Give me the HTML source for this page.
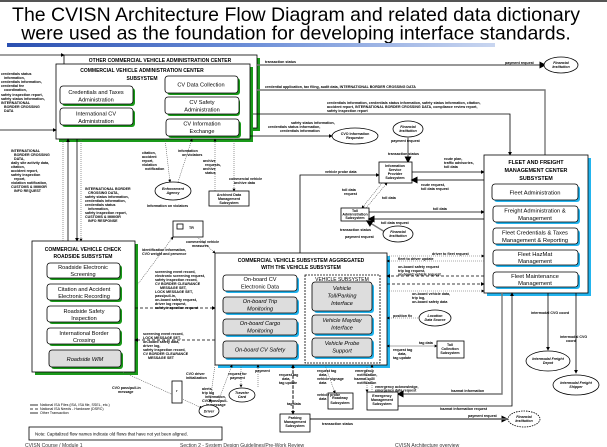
<!DOCTYPE html>
<html><head><meta charset="utf-8"><style>
html,body{margin:0;padding:0;background:#fff;}
svg{display:block;}
text{font-family:"Liberation Sans",sans-serif;}
.t{font-size:3.6px;font-weight:bold;fill:#000;}
.b{font-size:6.6px;fill:#000;}
.bi{font-size:6.6px;fill:#000;font-style:italic;}
.h{font-size:5.6px;font-weight:bold;fill:#000;}
.l{stroke:#000;stroke-width:0.8;fill:none;}
.d{stroke:#000;stroke-width:0.8;fill:none;stroke-dasharray:3,2;}
.dt{stroke:#555;stroke-width:0.6;fill:none;stroke-dasharray:1,1;}
.g{stroke:#777;stroke-width:1.4;fill:none;}
.w{fill:#fff;stroke:#000;stroke-width:0.8;}
.gr{fill:#ddd;stroke:#000;stroke-width:0.8;}
</style></head><body>
<svg width="607" height="447" viewBox="0 0 607 447" xmlns="http://www.w3.org/2000/svg">
<defs>
<marker id="a" markerWidth="5" markerHeight="5" refX="4" refY="2.5" orient="auto"><path d="M0,0 L5,2.5 L0,5z" fill="#000"/></marker>
<linearGradient id="bar" x1="0" x2="1"><stop offset="0" stop-color="#2a4fb0"/><stop offset="0.5" stop-color="#6d8fd8"/><stop offset="1" stop-color="#c9d6f0"/></linearGradient>
</defs>
<rect x="0" y="0" width="607" height="2" fill="#555"/>
<text x="296" y="21" text-anchor="middle" style="font-size:19.5px">The CVISN Architecture Flow Diagram and related data dictionary</text>
<text x="296" y="39.5" text-anchor="middle" style="font-size:19.5px">were used as the foundation for developing interface standards.</text>
<rect x="7" y="43" width="488" height="4" fill="url(#bar)"/>

<!-- Other CVAC -->
<rect x="67" y="58" width="193" height="73" fill="#1a9a1a"/>
<rect x="64" y="55" width="193" height="73" class="w"/>
<text x="160" y="62" text-anchor="middle" class="h" style="font-size:5px">OTHER COMMERCIAL VEHICLE ADMINISTRATION CENTER</text>
<!-- CVAC -->
<rect x="59" y="67" width="194" height="75" fill="#1a9a1a"/>
<rect x="56" y="64" width="194" height="75" class="w"/>
<text x="142" y="72" text-anchor="middle" class="h" style="font-size:5px">COMMERCIAL VEHICLE ADMINISTRATION CENTER</text>
<text x="142" y="80" text-anchor="middle" class="h" style="font-size:5px">SUBSYSTEM</text>
<g>
<rect x="62" y="88" width="73" height="18" rx="3" fill="#1a9a1a"/><rect x="60" y="86" width="73" height="18" rx="3" class="w"/>
<text x="96" y="94" text-anchor="middle" class="b" style="font-size:5.6px">Credentials and Taxes</text><text x="96" y="101.5" text-anchor="middle" class="b" style="font-size:5.6px">Administration</text>
<rect x="62" y="110" width="73" height="17" rx="3" fill="#1a9a1a"/><rect x="60" y="108" width="73" height="17" rx="3" class="w"/>
<text x="96" y="115.5" text-anchor="middle" class="b" style="font-size:5.6px">International CV</text><text x="96" y="123" text-anchor="middle" class="b" style="font-size:5.6px">Administration</text>
<rect x="167" y="78" width="73" height="17" rx="3" fill="#1a9a1a"/><rect x="165" y="76" width="73" height="17" rx="3" class="w"/>
<text x="201" y="86.5" text-anchor="middle" class="b" style="font-size:5.6px">CV Data Collection</text>
<rect x="167" y="99" width="73" height="17" rx="3" fill="#1a9a1a"/><rect x="165" y="97" width="74" height="17" rx="3" class="w"/>
<text x="202" y="104" text-anchor="middle" class="b" style="font-size:5.6px">CV Safety</text><text x="202" y="111.5" text-anchor="middle" class="b" style="font-size:5.6px">Administration</text>
<rect x="168" y="121" width="73" height="17" rx="3" fill="#1a9a1a"/><rect x="166" y="119" width="73" height="17" rx="3" class="w"/>
<text x="202" y="125.5" text-anchor="middle" class="b" style="font-size:5.6px">CV Information</text><text x="202" y="133" text-anchor="middle" class="b" style="font-size:5.6px">Exchange</text>
</g>

<!-- left incoming lines -->
<path d="M0,55 L64,55" class="l" marker-end="url(#a)"/>
<path d="M0,130 L56,130" class="l" marker-end="url(#a)"/>
<text x="1" y="75" class="t">credentials status</text><text x="4" y="79" class="t">information,</text><text x="1" y="83" class="t">credentials information,</text><text x="1" y="87" class="t">credential fee</text><text x="4" y="91" class="t">coordination,</text><text x="1" y="96" class="t">safety inspection report,</text><text x="1" y="100" class="t">safety status information,</text><text x="1" y="104" class="t">INTERNATIONAL</text><text x="4" y="108" class="t">BORDER CROSSING</text><text x="4" y="112" class="t">DATA</text>
<text x="11" y="152" class="t">INTERNATIONAL</text><text x="14" y="156" class="t">BORDER CROSSING</text><text x="14" y="160" class="t">DATA,</text><text x="11" y="164" class="t">daily site activity data,</text><text x="11" y="168" class="t">citation,</text><text x="11" y="172" class="t">accident report,</text><text x="11" y="176" class="t">safety inspection</text><text x="14" y="180" class="t">report,</text><text x="11" y="184" class="t">violation notification,</text><text x="11" y="188" class="t">CUSTOMS &amp; IMMIGR</text><text x="14" y="192" class="t">INFO REQUEST</text>

<!-- CVAC to roadside verticals -->
<path d="M63,241 L63,139" class="dt"/>
<path d="M68,241 L68,139" class="l" marker-end="url(#a)"/>
<path d="M77,139 L77,241" class="l" marker-end="url(#a)"/>
<path d="M81,139 L81,241" class="dt" marker-end="url(#a)"/>
<text x="85" y="190" class="t">INTERNATIONAL BORDER</text><text x="88" y="194" class="t">CROSSING DATA,</text><text x="85" y="198" class="t">safety status information,</text><text x="85" y="202" class="t">credentials information,</text><text x="85" y="206" class="t">credentials status</text><text x="88" y="210" class="t">information,</text><text x="85" y="214" class="t">safety inspection report,</text><text x="85" y="218" class="t">CUSTOMS &amp; IMMIGR</text><text x="88" y="222" class="t">INFO RESPONSE</text>

<!-- right top lines -->
<path d="M257,65 L545,65" class="g" marker-end="url(#a)"/>
<text x="265" y="63" class="t">transaction status</text><text x="505" y="64" class="t">payment request</text>
<ellipse cx="561" cy="65" rx="17" ry="8" class="w"/><text x="561" y="64" text-anchor="middle" class="t" style="font-style:italic">Financial</text><text x="561" y="68" text-anchor="middle" class="t" style="font-style:italic">Institution</text>
<path d="M257,90 L545,90 L545,155" class="g"/>
<text x="265" y="88" class="t">credential application, tax filing, audit data, INTERNATIONAL BORDER CROSSING DATA</text>
<path d="M253,114 L510,114 L510,155" class="l" marker-end="url(#a)"/>
<text x="327" y="104" class="t">credentials information, credentials status information, safety status information, citation,</text><text x="327" y="108" class="t">accident report, INTERNATIONAL BORDER CROSSING DATA, compliance review report,</text><text x="327" y="112" class="t">safety inspection report</text>
<path d="M250,136 L332,136" class="l" marker-end="url(#a)"/>
<text x="291" y="124" class="t">safety status information,</text><text x="268" y="128" class="t">credentials status information,</text><text x="280" y="132" class="t">credentials information</text>
<ellipse cx="355" cy="136" rx="23" ry="8" class="w"/><text x="355" y="135" text-anchor="middle" class="t">CVO Information</text><text x="355" y="139" text-anchor="middle" class="t">Requester</text>

<!-- enforcement etc -->
<path d="M165,139 L170,182" class="dt" marker-end="url(#a)"/>
<path d="M178,182 L192,139" class="dt" marker-end="url(#a)"/>
<path d="M215,191 L215,139" class="dt" marker-end="url(#a)"/>
<path d="M234,139 L234,191" class="dt" marker-end="url(#a)"/>
<text x="142" y="154" class="t">citation,</text><text x="142" y="158" class="t">accident</text><text x="142" y="162" class="t">report,</text><text x="142" y="166" class="t">violation</text><text x="145" y="170" class="t">notification</text>
<text x="178" y="152" class="t">information</text><text x="182" y="156" class="t">on violators</text>
<text x="203" y="162" class="t">archive</text><text x="205" y="166" class="t">requests,</text><text x="203" y="170" class="t">archive</text><text x="205" y="174" class="t">status</text>
<text x="229" y="180" class="t">commercial vehicle</text><text x="234" y="184" class="t">archive data</text>
<ellipse cx="173" cy="191" rx="18" ry="9" class="w"/><text x="173" y="190" text-anchor="middle" class="t" style="font-style:italic">Enforcement</text><text x="173" y="194" text-anchor="middle" class="t" style="font-style:italic">Agency</text>
<text x="147" y="207" class="t">Information on violators</text>
<rect x="209" y="191" width="40" height="15" class="w" stroke-width="1.2"/><text x="229" y="196" text-anchor="middle" class="t">Archived Data</text><text x="229" y="200" text-anchor="middle" class="t">Management</text><text x="229" y="204" text-anchor="middle" class="t">Subsystem</text>
<rect x="173" y="221" width="30" height="16" class="w"/><rect x="177" y="224" width="6" height="5" class="w" stroke-width="0.4"/><text x="189" y="229" class="t">TR</text>
<path d="M135,288 L173,237" class="dt" marker-end="url(#a)"/>
<path d="M197,237 L215,253" class="dt" marker-end="url(#a)"/>
<text x="186" y="243" class="t">commercial vehicle</text><text x="192" y="247" class="t">measures</text>
<text x="142" y="251" class="t">identification information,</text><text x="142" y="255" class="t">CVO weight and presence</text>

<!-- Roadside -->
<rect x="35" y="244" width="103" height="131" fill="#1a9a1a"/>
<rect x="32" y="241" width="103" height="131" class="w"/>
<text x="83" y="251" text-anchor="middle" class="h" style="font-size:5px">COMMERCIAL VEHICLE CHECK</text><text x="83" y="258" text-anchor="middle" class="h" style="font-size:5px">ROADSIDE SUBSYSTEM</text>
<g>
<rect x="49" y="265" width="73" height="15" rx="3" fill="#1a9a1a"/><rect x="47" y="263" width="73" height="15" rx="3" class="w"/>
<text x="83" y="269" text-anchor="middle" class="b" style="font-size:5.6px">Roadside Electronic</text><text x="83" y="276" text-anchor="middle" class="b" style="font-size:5.6px">Screening</text>
<rect x="49" y="286" width="73" height="16" rx="3" fill="#1a9a1a"/><rect x="47" y="284" width="73" height="16" rx="3" class="w"/>
<text x="84" y="291" text-anchor="middle" class="b" style="font-size:5.6px">Citation and Accident</text><text x="84" y="298" text-anchor="middle" class="b" style="font-size:5.6px">Electronic Recording</text>
<rect x="49" y="308" width="73" height="16" rx="3" fill="#1a9a1a"/><rect x="47" y="306" width="73" height="16" rx="3" class="w"/>
<text x="84" y="313" text-anchor="middle" class="b" style="font-size:5.6px">Roadside Safety</text><text x="84" y="320" text-anchor="middle" class="b" style="font-size:5.6px">Inspection</text>
<rect x="49" y="330" width="73" height="16" rx="3" fill="#1a9a1a"/><rect x="47" y="328" width="73" height="16" rx="3" class="w"/>
<text x="84" y="335" text-anchor="middle" class="b" style="font-size:5.6px">International Border</text><text x="84" y="342" text-anchor="middle" class="b" style="font-size:5.6px">Crossing</text>
<rect x="51" y="352" width="72" height="17" rx="3" fill="#1a9a1a"/><rect x="49" y="350" width="72" height="17" rx="3" class="gr"/>
<text x="85" y="361" text-anchor="middle" class="bi" style="font-size:5.6px">Roadside WIM</text>
</g>

<!-- Roadside <-> CV lines -->
<path d="M135,308 L215,308" class="d" marker-end="url(#a)"/>
<path d="M215,340 L135,340" class="d" marker-end="url(#a)"/>
<text x="155" y="273" class="t">screening event record,</text><text x="155" y="277" class="t">electronic screening request,</text><text x="155" y="281" class="t">safety inspection record,</text><text x="155" y="285" class="t">CV BORDER CLEARANCE</text><text x="160" y="289" class="t">MESSAGE SET,</text><text x="155" y="293" class="t">LOCK MESSAGE SET,</text><text x="155" y="297" class="t">pass/pull-in,</text><text x="155" y="301" class="t">on-board safety request,</text><text x="155" y="305" class="t">driver log request,</text><text x="155" y="309" class="t">safety inspection request</text>
<text x="143" y="335" class="t">screening event record,</text><text x="143" y="339" class="t">LOCK MESSAGE SET,</text><text x="143" y="343" class="t">on-board safety data,</text><text x="143" y="347" class="t">driver log,</text><text x="143" y="351" class="t">safety inspection record,</text><text x="143" y="355" class="t">CV BORDER CLEARANCE</text><text x="148" y="359" class="t">MESSAGE SET</text>

<!-- CV aggregated -->
<rect x="218" y="256" width="172" height="112" fill="#22b4ee"/>
<rect x="215" y="253" width="172" height="112" class="w" stroke-width="1.2"/>
<text x="301" y="262" text-anchor="middle" class="h" style="font-size:5px">COMMERCIAL VEHICLE SUBSYSTEM AGGREGATED</text><text x="301" y="269" text-anchor="middle" class="h" style="font-size:5px">WITH THE VEHICLE SUBSYSTEM</text>
<g>
<rect x="225" y="277" width="74" height="16" rx="3" fill="#22b4ee"/><rect x="223" y="275" width="74" height="16" rx="3" class="w"/>
<text x="260" y="281" text-anchor="middle" class="b" style="font-size:5.6px">On-board CV</text><text x="260" y="288.5" text-anchor="middle" class="b" style="font-size:5.6px">Electronic Data</text>
<rect x="225" y="299" width="74" height="16" rx="3" fill="#22b4ee"/><rect x="223" y="297" width="74" height="16" rx="3" class="gr"/>
<text x="260" y="303" text-anchor="middle" class="bi" style="font-size:5.6px">On-board Trip</text><text x="260" y="310.5" text-anchor="middle" class="bi" style="font-size:5.6px">Monitoring</text>
<rect x="225" y="321" width="74" height="16" rx="3" fill="#22b4ee"/><rect x="223" y="319" width="74" height="16" rx="3" class="gr"/>
<text x="260" y="325" text-anchor="middle" class="bi" style="font-size:5.6px">On-board Cargo</text><text x="260" y="332.5" text-anchor="middle" class="bi" style="font-size:5.6px">Monitoring</text>
<rect x="225" y="343" width="74" height="17" rx="3" fill="#22b4ee"/><rect x="223" y="341" width="74" height="17" rx="3" class="gr"/>
<text x="260" y="351.5" text-anchor="middle" class="bi" style="font-size:5.6px">On-board CV Safety</text>
<rect x="305" y="275" width="75" height="88" class="w" stroke-dasharray="2,1"/>
<text x="342" y="281" text-anchor="middle" class="b" style="font-size:5px">VEHICLE SUBSYSTEM</text>
<rect x="314" y="284" width="60" height="29" rx="3" fill="#22b4ee"/><rect x="312" y="282" width="60" height="29" rx="3" class="gr"/>
<text x="342" y="290" text-anchor="middle" class="bi" style="font-size:5.6px">Vehicle</text><text x="342" y="297.5" text-anchor="middle" class="bi" style="font-size:5.6px">Toll/Parking</text><text x="342" y="305" text-anchor="middle" class="bi" style="font-size:5.6px">Interface</text>
<rect x="314" y="317" width="60" height="19" rx="3" fill="#22b4ee"/><rect x="312" y="315" width="60" height="19" rx="3" class="gr"/>
<text x="342" y="322" text-anchor="middle" class="bi" style="font-size:5.6px">Vehicle Mayday</text><text x="342" y="329.5" text-anchor="middle" class="bi" style="font-size:5.6px">Interface</text>
<rect x="314" y="340" width="60" height="19" rx="3" fill="#22b4ee"/><rect x="312" y="338" width="60" height="19" rx="3" class="gr"/>
<text x="342" y="345" text-anchor="middle" class="bi" style="font-size:5.6px">Vehicle Probe</text><text x="342" y="352.5" text-anchor="middle" class="bi" style="font-size:5.6px">Support</text>
</g>

<!-- ISP / Toll admin -->
<path d="M300,253 L300,175 L379,175" class="l" marker-end="url(#a)"/>
<text x="325" y="173" class="t">vehicle probe data</text>
<ellipse cx="408" cy="129" rx="15" ry="8" class="w"/><text x="408" y="128" text-anchor="middle" class="t" style="font-style:italic">Financial</text><text x="408" y="132" text-anchor="middle" class="t" style="font-style:italic">Institution</text>
<path d="M408,137 L408,162" class="g" marker-end="url(#a)"/>
<text x="391" y="142" class="t">payment request</text><text x="388" y="155" class="t">transaction status</text>
<rect x="379" y="162" width="33" height="21" class="w" stroke-width="1.2"/>
<text x="395" y="167" text-anchor="middle" class="t">Information</text><text x="395" y="171" text-anchor="middle" class="t">Service</text><text x="395" y="175" text-anchor="middle" class="t">Provider</text><text x="395" y="179" text-anchor="middle" class="t">Subsystem</text>
<path d="M412,172 L484,172" class="l" marker-end="url(#a)"/>
<path d="M484,180 L412,180" class="g" marker-end="url(#a)"/>
<text x="444" y="160" class="t">route plan,</text><text x="444" y="164" class="t">traffic advisories,</text><text x="444" y="168" class="t">toll data</text>
<text x="421" y="186" class="t">route request,</text><text x="421" y="190" class="t">toll data request</text>
<path d="M382,183 L362,208" class="dt" marker-end="url(#a)"/>
<path d="M366,208 L387,183" class="dt" marker-end="url(#a)"/>
<text x="342" y="191" class="t">toll data</text><text x="344" y="195" class="t">request</text><text x="382" y="199" class="t">toll data</text>
<rect x="341" y="208" width="28" height="13" class="w" stroke-width="1.2"/>
<text x="355" y="212" text-anchor="middle" class="t">Toll</text><text x="355" y="215.5" text-anchor="middle" class="t">Administration</text><text x="355" y="219" text-anchor="middle" class="t">Subsystem</text>
<path d="M369,212 L484,212" class="l" marker-end="url(#a)"/>
<path d="M484,219 L369,219" class="g" marker-end="url(#a)"/>
<text x="433" y="210" class="t">toll data</text><text x="381" y="224" class="t">toll data request</text>
<text x="340" y="231" class="t">transaction status</text><text x="345" y="238" class="t">payment request</text>
<path d="M385,232 L367,221" class="g" marker-end="url(#a)"/>
<ellipse cx="398" cy="234" rx="15" ry="8" class="w"/><text x="398" y="233" text-anchor="middle" class="t" style="font-style:italic">Financial</text><text x="398" y="237" text-anchor="middle" class="t" style="font-style:italic">Institution</text>

<!-- Fleet -->
<rect x="487" y="158" width="104" height="138" fill="#22b4ee"/>
<rect x="484" y="155" width="104" height="138" class="w" stroke-width="1.2"/>
<text x="536" y="164" text-anchor="middle" class="h" style="font-size:5.4px">FLEET AND FREIGHT</text><text x="536" y="172" text-anchor="middle" class="h" style="font-size:5.4px">MANAGEMENT CENTER</text><text x="536" y="180" text-anchor="middle" class="h" style="font-size:5.4px">SUBSYSTEM</text>
<g>
<rect x="494" y="186" width="86" height="16" rx="3" fill="#22b4ee"/><rect x="492" y="184" width="86" height="16" rx="3" class="w"/>
<text x="535" y="194.5" text-anchor="middle" class="b" style="font-size:5.8px">Fleet Administration</text>
<rect x="495" y="208" width="85" height="16" rx="3" fill="#22b4ee"/><rect x="493" y="206" width="85" height="16" rx="3" class="w"/>
<text x="535" y="212.5" text-anchor="middle" class="b" style="font-size:5.8px">Freight Administration &amp;</text><text x="535" y="220" text-anchor="middle" class="b" style="font-size:5.8px">Management</text>
<rect x="495" y="230" width="85" height="16" rx="3" fill="#22b4ee"/><rect x="493" y="228" width="85" height="16" rx="3" class="w"/>
<text x="535" y="234.5" text-anchor="middle" class="b" style="font-size:5.8px">Fleet Credentials &amp; Taxes</text><text x="535" y="242" text-anchor="middle" class="b" style="font-size:5.8px">Management &amp; Reporting</text>
<rect x="495" y="252" width="85" height="15" rx="3" fill="#22b4ee"/><rect x="493" y="250" width="85" height="15" rx="3" class="w"/>
<text x="535" y="256" text-anchor="middle" class="b" style="font-size:5.8px">Fleet HazMat</text><text x="535" y="263" text-anchor="middle" class="b" style="font-size:5.8px">Management</text>
<rect x="495" y="274" width="85" height="15" rx="3" fill="#22b4ee"/><rect x="493" y="272" width="85" height="15" rx="3" class="w"/>
<text x="535" y="278" text-anchor="middle" class="b" style="font-size:5.8px">Fleet Maintenance</text><text x="535" y="285" text-anchor="middle" class="b" style="font-size:5.8px">Management</text>
</g>

<!-- CV <-> Fleet -->
<path d="M387,256 L484,256" class="dt" marker-end="url(#a)"/>
<path d="M484,261 L387,261" class="dt" marker-end="url(#a)"/>
<path d="M484,276 L387,276" class="d" marker-end="url(#a)"/>
<path d="M387,284 L484,284" class="d" marker-end="url(#a)"/>
<path d="M387,291 L484,291" class="dt" marker-end="url(#a)"/>
<text x="432" y="255" class="t">driver to fleet request</text><text x="398" y="260" class="t">fleet to driver update</text>
<text x="398" y="268" class="t">on-board safety request</text><text x="398" y="272" class="t">trip log request,</text><text x="398" y="275.5" text-anchor="start" class="t">on-board vehicle request</text>
<text x="412" y="295" class="t">on-board vehicle data,</text><text x="412" y="299" class="t">trip log,</text><text x="412" y="303" class="t">on-board safety data</text>
<path d="M420,318 L387,318" class="dt" marker-end="url(#a)"/><text x="393" y="317" class="t">position fix</text>
<ellipse cx="435" cy="318" rx="16" ry="8" class="w"/><text x="435" y="317" text-anchor="middle" class="t" style="font-style:italic">Location</text><text x="435" y="321" text-anchor="middle" class="t" style="font-style:italic">Data Source</text>
<path d="M387,346 L437,346" class="dt" marker-end="url(#a)"/><path d="M437,346 L387,346" class="dt" marker-end="url(#a)"/>
<text x="419" y="344" class="t">tag data</text><text x="393" y="351" class="t">request tag</text><text x="398" y="355" class="t">data,</text><text x="393" y="359" class="t">tag update</text>
<rect x="437" y="341" width="27" height="17" class="w" stroke-width="1.2"/><text x="450" y="346" text-anchor="middle" class="t">Toll</text><text x="450" y="350" text-anchor="middle" class="t">Collection</text><text x="450" y="354" text-anchor="middle" class="t">Subsystem</text>

<!-- Fleet bottom lines -->
<path d="M502,293 L502,394 L398,394" class="g" marker-end="url(#a)"/>
<path d="M398,406 L512,406 L512,293" class="l" marker-end="url(#a)"/>
<path d="M548,293 L548,350" class="l" marker-end="url(#a)"/>
<path d="M576,293 L576,373" class="l" marker-end="url(#a)"/>
<text x="531" y="314" class="t">intermodal CVO coord</text><text x="560" y="338" class="t">intermodal CVO</text><text x="566" y="342" class="t">coord</text>
<ellipse cx="548" cy="361" rx="22" ry="10" class="w"/><text x="548" y="360" text-anchor="middle" class="t" style="font-style:italic">Intermodal Freight</text><text x="548" y="364" text-anchor="middle" class="t" style="font-style:italic">Depot</text>
<ellipse cx="576" cy="385" rx="23" ry="10" class="w"/><text x="576" y="384" text-anchor="middle" class="t" style="font-style:italic">Intermodal Freight</text><text x="576" y="388" text-anchor="middle" class="t" style="font-style:italic">Shipper</text>
<text x="451" y="392" class="t">hazmat information</text><text x="440" y="410" class="t">hazmat information request</text>
<path d="M310,419 L507,419" class="g" marker-end="url(#a)"/><path d="M507,419 L310,419" class="g"/>
<text x="468" y="417" class="t">payment request</text><text x="322" y="425" class="t">transaction status</text>
<ellipse cx="524" cy="419" rx="16" ry="8" fill="#fff" stroke="#000" stroke-width="0.8" stroke-dasharray="1.5,1"/><text x="524" y="418" text-anchor="middle" class="t" style="font-style:italic">Financial</text><text x="524" y="422" text-anchor="middle" class="t" style="font-style:italic">Institution</text>

<!-- CV bottom -->
<rect x="328" y="393" width="25" height="16" class="w" stroke-width="1.2"/><text x="340" y="399" text-anchor="middle" class="t">Roadway</text><text x="340" y="404" text-anchor="middle" class="t">Subsystem</text>
<rect x="367" y="392" width="31" height="18" class="w" stroke-width="1.2"/><text x="382" y="397" text-anchor="middle" class="t">Emergency</text><text x="382" y="401" text-anchor="middle" class="t">Management</text><text x="382" y="405" text-anchor="middle" class="t">Subsystem</text>
<rect x="280" y="414" width="30" height="18" class="w" stroke-width="1.2"/><text x="295" y="419" text-anchor="middle" class="t">Parking</text><text x="295" y="423" text-anchor="middle" class="t">Management</text><text x="295" y="427" text-anchor="middle" class="t">Subsystem</text>
<path d="M293,365 L293,414" class="d" marker-end="url(#a)"/><path d="M293,414 L293,365" class="d" marker-end="url(#a)"/>
<text x="279" y="376" class="t">request tag</text><text x="282" y="380" class="t">data,</text><text x="279" y="384" class="t">tag update</text><text x="287" y="405" class="t">tag data</text>
<path d="M325,365 L335,393" class="dt" marker-end="url(#a)"/>
<text x="317" y="372" class="t">request tag</text><text x="319" y="376" class="t">data,</text><text x="317" y="380" class="t">vehicle signage</text><text x="319" y="384" class="t">data</text><text x="317" y="396" class="t">vehicle probe</text><text x="319" y="400" class="t">data</text>
<path d="M367,365 L367,392" class="dt" marker-end="url(#a)"/><path d="M372,392 L372,365" class="dt" marker-end="url(#a)"/>
<text x="355" y="372" class="t">emergency</text><text x="357" y="376" class="t">notification,</text><text x="354" y="380" class="t">hazmat spill</text><text x="357" y="384" class="t">notification</text>
<text x="375" y="388" class="t">emergency acknowledge,</text><text x="375" y="391.5" class="t">emergency data request</text>
<path d="M241,365 L241,387" class="dt" marker-end="url(#a)"/><path d="M258,387 L258,365" class="dt" marker-end="url(#a)"/>
<text x="228" y="375" class="t">request for</text><text x="230" y="379" class="t">payment</text><text x="255" y="372" class="t">payment</text>
<ellipse cx="242" cy="395" rx="13" ry="7" class="w"/><text x="242" y="394" text-anchor="middle" class="t" style="font-style:italic">Traveler</text><text x="242" y="398" text-anchor="middle" class="t" style="font-style:italic">Card</text>
<path d="M215,365 L210,402" class="dt" marker-end="url(#a)"/><path d="M218,402 L232,365" class="dt" marker-end="url(#a)"/>
<path d="M123,372 L202,408" class="dt" marker-end="url(#a)"/>
<text x="186" y="375" class="t">CVO driver</text><text x="186" y="379" class="t">initialization</text>
<text x="202" y="390" class="t">alerts,</text><text x="202" y="394" class="t">trip log</text><text x="205" y="398" class="t">information,</text><text x="202" y="402" class="t">CVO pass/pull-</text><text x="206" y="406" class="t">in message</text>
<text x="112" y="389" class="t">CVO pass/pull-in</text><text x="118" y="393" class="t">message</text>
<rect x="172" y="381" width="10" height="22" class="w"/><text x="177" y="392" text-anchor="middle" class="t" fill="#c00">r</text>
<ellipse cx="209" cy="411" rx="10" ry="6" class="w"/><text x="209" y="412.5" text-anchor="middle" class="t" style="font-style:italic">Driver</text>

<!-- legend/note -->
<path d="M30,405 L38,405" class="l"/><path d="M30,409 L38,409" class="d"/><path d="M30,413 L38,413" class="l"/>
<text x="40" y="406" class="t" style="font-weight:normal">National ISA Files (ISA, ISA file, SSEL, etc.)</text><text x="40" y="410" class="t" style="font-weight:normal">National ISA Needs - Hardware (DSRC)</text><text x="40" y="414" class="t" style="font-weight:normal">Other Transaction</text>
<rect x="29" y="427" width="193" height="13" class="w"/>
<text x="35" y="435.5" style="font-size:4.4px">Note: Capitalized flow names indicate old flows that have not yet been aligned.</text>
<text x="25" y="447" style="font-size:5px;fill:#333">CVISN Course / Module 1</text>
<text x="180" y="447" style="font-size:5px;fill:#333">Section 2 - System Design Guidelines/Pre-Work Review</text>
<text x="395" y="447" style="font-size:5px;fill:#333">CVISN Architecture overview</text>
</svg>
</body></html>
